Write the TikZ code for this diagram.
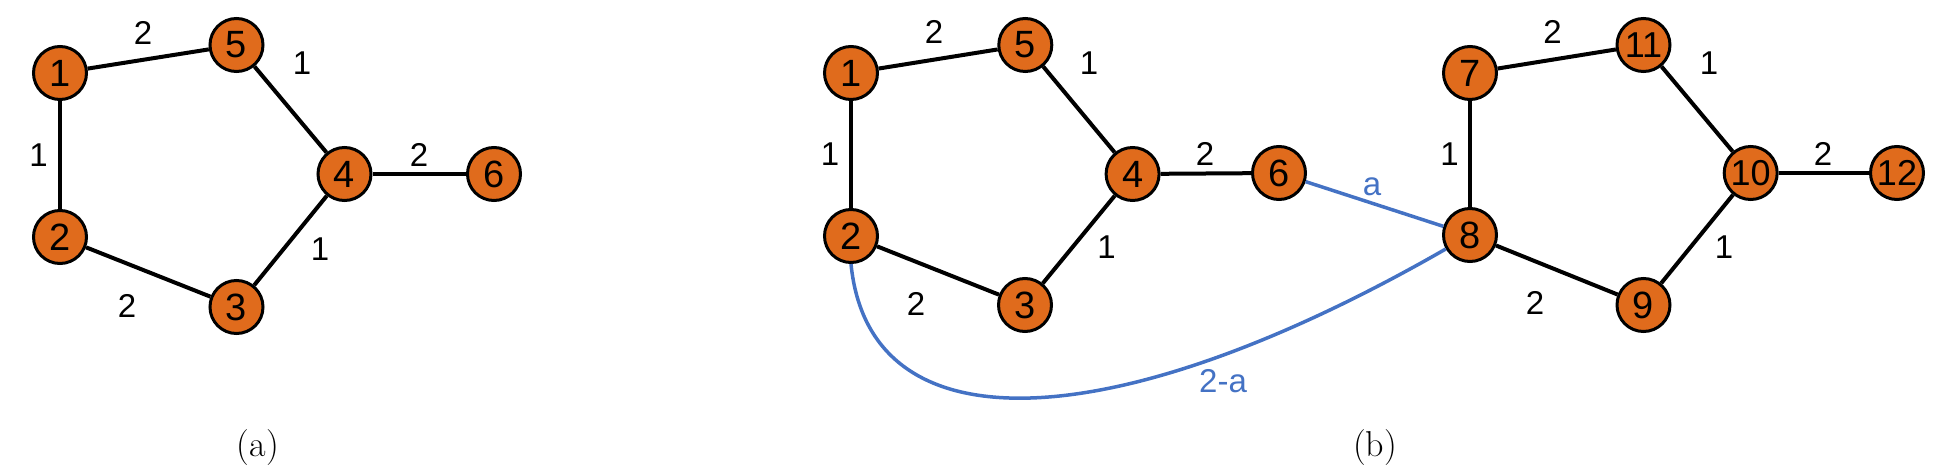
\documentclass[tikz,border=0pt]{standalone}
\usepackage{fontspec}
\newfontfamily\arialfont{Liberation Sans}
\definecolor{nodeorange}{RGB}{224,107,28}
\definecolor{edgeblue}{RGB}{68,114,196}
\begin{document}
\begin{tikzpicture}[x=0.5pt,y=-0.5pt,
  vert/.style={circle,draw=black,line width=1.5pt,fill=nodeorange,minimum size=26.5pt,inner sep=0pt,font=\arialfont\fontsize{19}{19}\selectfont},
  vert2/.style={vert,font=\arialfont\fontsize{18}{18}\selectfont},
  blk/.style={draw=black,line width=2pt},
  blu/.style={draw=edgeblue,line width=1.75pt},
  lbl/.style={inner sep=0pt,font=\arialfont\fontsize{16.5}{16.5}\selectfont},
  blbl/.style={lbl,text=edgeblue},
  captext/.style={inner sep=0pt,font=\fontsize{18}{18}\selectfont}]
\useasboundingbox (0,0) rectangle (1940,476);
% panel (a)
\node[vert] (n1) at (60,73) {1};
\node[vert] (n2) at (60,237) {2};
\node[vert] (n3) at (236.5,307) {3};
\node[vert] (n4) at (344.5,174) {4};
\node[vert] (n5) at (236.5,45) {5};
\node[vert] (n6) at (494,174) {6};
\draw[blk] (n1) -- (n5);
\draw[blk] (n5) -- (n4);
\draw[blk] (n1) -- (n2);
\draw[blk] (n4) -- (n6);
\draw[blk] (n3) -- (n4);
\draw[blk] (n2) -- (n3);
\node[lbl] (la1) at (143,33) {2};
\node[lbl] (la2) at (302,63) {1};
\node[lbl] (la3) at (38.5,155) {1};
\node[lbl] (la4) at (419,155) {2};
\node[lbl] (la5) at (320,249) {1};
\node[lbl] (la6) at (127,306) {2};
\node[captext] (capa) at (258,448) {(a)};
% panel (b)
\node[vert] (m1) at (851,73) {1};
\node[vert] (m2) at (851,236) {2};
\node[vert] (m3) at (1025,305) {3};
\node[vert] (m4) at (1132.6,174) {4};
\node[vert] (m5) at (1025.3,45) {5};
\node[vert] (m6) at (1279,173) {6};
\node[vert] (m7) at (1470,73) {7};
\node[vert] (m8) at (1470,235) {8};
\node[vert] (m9) at (1643.5,305) {9};
\node[vert2] (m10) at (1750.7,173) {10};
\node[vert2] (m11) at (1643.5,45) {11};
\node[vert2] (m12) at (1897,173) {12};
\draw[blk] (m1) -- (m5);
\draw[blk] (m5) -- (m4);
\draw[blk] (m1) -- (m2);
\draw[blk] (m4) -- (m6);
\draw[blk] (m3) -- (m4);
\draw[blk] (m2) -- (m3);
\draw[blk] (m7) -- (m11);
\draw[blk] (m11) -- (m10);
\draw[blk] (m7) -- (m8);
\draw[blk] (m10) -- (m12);
\draw[blk] (m9) -- (m10);
\draw[blk] (m8) -- (m9);
\draw[blu] (m6) -- (m8);
\draw[blu] (m2.south) .. controls (870,455) and (1122,435) .. (m8.210);
\node[lbl] (lb1) at (934,32) {2};
\node[lbl] (lb2) at (1089,63) {1};
\node[lbl] (lb3) at (830,154) {1};
\node[lbl] (lb4) at (1205,154) {2};
\node[lbl] (lb5) at (1106.5,247) {1};
\node[lbl] (lb6) at (916,304) {2};
\node[lbl] (lc1) at (1552.5,32) {2};
\node[lbl] (lc2) at (1709,63) {1};
\node[lbl] (lc3) at (1449.5,154) {1};
\node[lbl] (lc4) at (1823,154) {2};
\node[lbl] (lc5) at (1724,247) {1};
\node[lbl] (lc6) at (1535,303) {2};
\node[blbl] (la) at (1372,187) {a};
\node[blbl] (l2a) at (1223,381) {2-a};
\node[captext] (capb) at (1375,448) {(b)};
\end{tikzpicture}
\end{document}
